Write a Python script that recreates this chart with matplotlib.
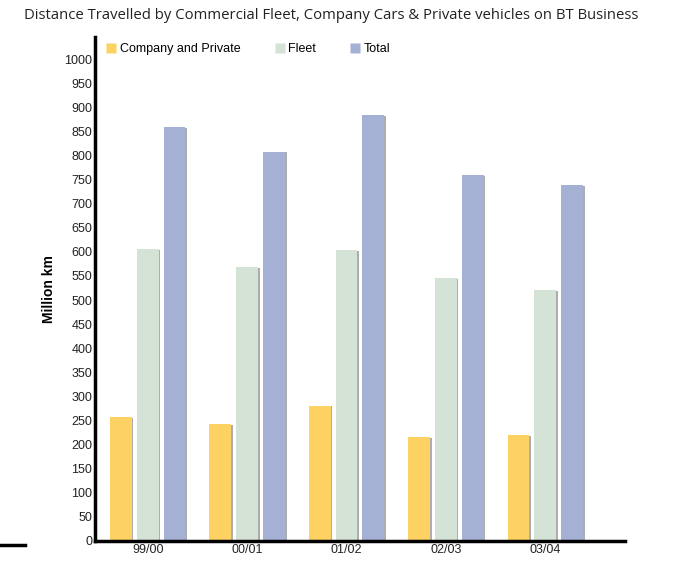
import numpy as np
import matplotlib.pyplot as plt
import matplotlib.patheffects as pe
from matplotlib.lines import Line2D

plt.rcParams['font.family'] = ['Liberation Sans Narrow', 'Liberation Sans', 'DejaVu Sans']

years = ['99/00', '00/01', '01/02', '02/03', '03/04']
company = [257, 243, 281, 215, 220]
fleet = [605, 568, 604, 545, 521]
total = [858, 808, 883, 760, 739]

series_names = ['Company and Private', 'Fleet', 'Total']
colors = ['#FDD263', '#D5E3D6', '#A4B1D4']

fig = plt.figure(figsize=(6.74, 5.62), dpi=100)
ax = fig.add_axes([0.141, 0.0374, 0.786, 0.897])

x = np.arange(len(years))
w = 0.22
step = 0.27
shadow = [pe.SimplePatchShadow(offset=(1.2, -0.6), shadow_rgbFace='#999999', alpha=0.8), pe.Normal()]
for i, (vals, c) in enumerate(zip([company, fleet, total], colors)):
    bars = ax.bar(x + (i - 1) * step, vals, w, color=c, edgecolor='none', zorder=2)
    for b in bars:
        b.set_path_effects(shadow)

ax.set_xlim(-0.53, 4.8)
ax.set_ylim(0, 1046)
ax.set_yticks(np.arange(0, 1001, 50))
ax.set_xticks(x)
ax.set_xticklabels(years)
ax.tick_params(length=0, labelsize=9, pad=2, colors='#222222')
for s in ['top', 'right']:
    ax.spines[s].set_visible(False)
for s in ['left', 'bottom']:
    ax.spines[s].set_linewidth(2.5)
    ax.spines[s].set_color('black')

ax.set_ylabel('Million km', fontsize=10, fontweight='bold', family=['Liberation Sans', 'DejaVu Sans'], labelpad=6)

handles = [Line2D([], [], marker='s', linestyle='none', markersize=7, markerfacecolor=c, markeredgecolor='none') for c in colors]
ax.legend(handles, series_names, loc='upper left', bbox_to_anchor=(0.005, 1.005), ncol=3, frameon=False,
          fontsize=9, handlelength=0.8, handletextpad=0.3, columnspacing=2.7, borderaxespad=0.3)

fig.text(0.491, 0.972, 'Distance Travelled by Commercial Fleet, Company Cars & Private vehicles on BT Business',
         ha='center', va='center', fontsize=10.7, family=['Open Sans', 'DejaVu Sans'], color='#222222')

fig.add_artist(Line2D([0.0, 0.037], [0.03, 0.03], color='black', linewidth=2.5))

fig.savefig('out.png', dpi=100)
